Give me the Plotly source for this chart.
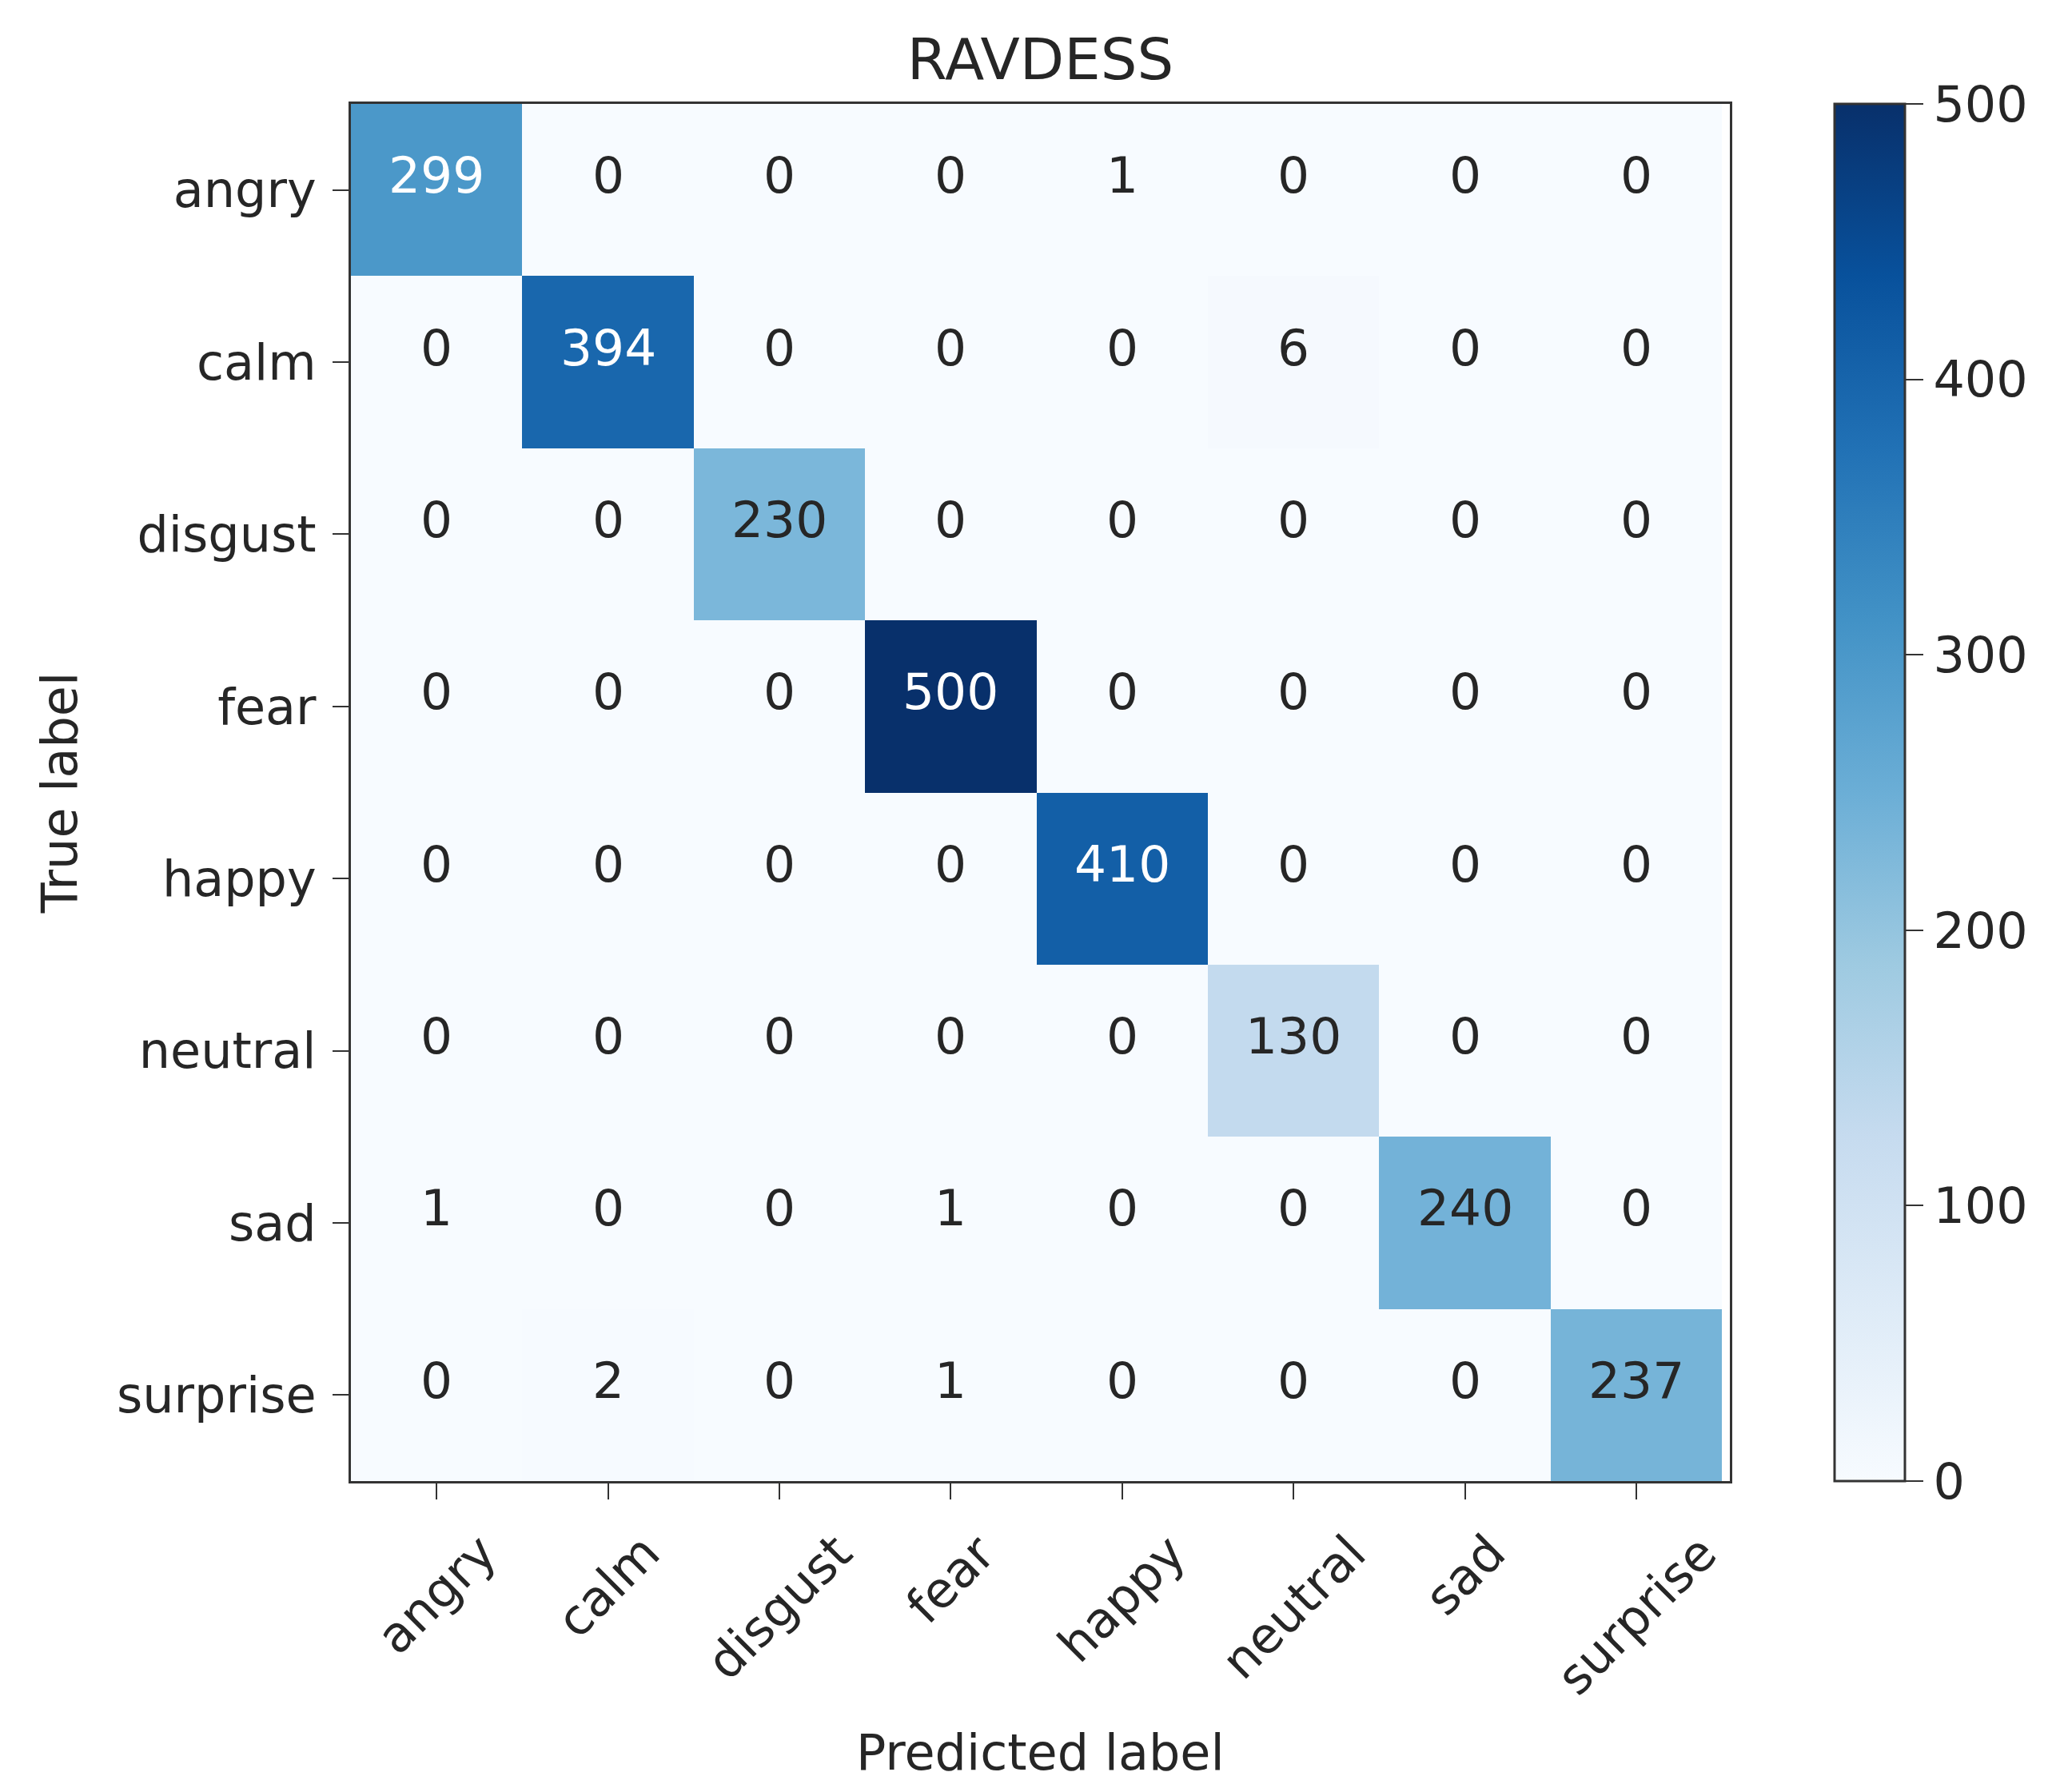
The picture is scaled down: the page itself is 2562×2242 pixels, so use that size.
import plotly.graph_objects as go

labels = ["angry", "calm", "disgust", "fear", "happy", "neutral", "sad", "surprise"]
cm = [
    [299, 0, 0, 0, 1, 0, 0, 0],
    [0, 394, 0, 0, 0, 6, 0, 0],
    [0, 0, 230, 0, 0, 0, 0, 0],
    [0, 0, 0, 500, 0, 0, 0, 0],
    [0, 0, 0, 0, 410, 0, 0, 0],
    [0, 0, 0, 0, 0, 130, 0, 0],
    [1, 0, 0, 1, 0, 0, 240, 0],
    [0, 2, 0, 1, 0, 0, 0, 237],
]
cbar_ticks = [0, 100, 200, 300, 400, 500]

blues = ["#f7fbff", "#deebf7", "#c6dbef", "#9ecae1", "#6baed6",
         "#4292c6", "#2171b5", "#08519c", "#08306b"]
colorscale = [[i / (len(blues) - 1), c] for i, c in enumerate(blues)]

W, H = 2562, 2242
L, R, T, B = 431, 2156, 122, 1845
FONT = "DejaVu Sans"
TXT = "#262626"

fig = go.Figure()
fig.add_trace(go.Heatmap(
    z=cm, x=labels, y=labels, colorscale=colorscale, zmin=0, zmax=500,
    showscale=True, hoverinfo="skip",
    colorbar=dict(
        x=(2287 - L) / (R - L), xanchor="left", xref="paper",
        y=0.5, yanchor="middle", len=1, lenmode="fraction",
        thickness=88, thicknessmode="pixels",
        outlinewidth=3, outlinecolor="#333",
        tickvals=cbar_ticks, ticks="outside", ticklen=22, tickwidth=2,
        tickcolor="#333",
        tickfont=dict(family=FONT, size=62, color=TXT),
        xpad=0, ypad=0,
    ),
))

maxv = max(max(r) for r in cm)
thresh = maxv / 2
for i, row in enumerate(cm):
    for j, v in enumerate(row):
        fig.add_annotation(
            x=labels[j], y=labels[i], text=str(v), showarrow=False, yshift=18,
            font=dict(family=FONT, size=63, color="white" if v > thresh else TXT),
        )

# rotated x tick labels, centred on their ticks (matplotlib style)
for lab in labels:
    fig.add_annotation(
        x=lab, xref="x", y=0, yref="paper", yanchor="top", xanchor="center",
        yshift=-50, text=lab, textangle=-45, showarrow=False,
        font=dict(family=FONT, size=62, color=TXT),
    )

fig.add_annotation(
    x=0.5, xref="paper", y=0, yref="paper", yanchor="middle", xanchor="center",
    yshift=-(2184 - B), text="Predicted label", showarrow=False,
    font=dict(family=FONT, size=62, color=TXT),
)

fig.update_layout(
    width=W, height=H,
    margin=dict(l=L, r=W - R, t=T, b=H - B),
    paper_bgcolor="white", plot_bgcolor="white",
    title=dict(text="RAVDESS", x=(L + R) / 2 / W, xanchor="center",
               y=1 - 66 / H, yanchor="middle",
               font=dict(family=FONT, size=72, color=TXT)),
    font=dict(family=FONT, color=TXT),
)
fig.update_xaxes(
    showline=True, linecolor="#333", linewidth=3, mirror=True,
    ticks="outside", ticklen=20, tickwidth=2, tickcolor="#333",
    showticklabels=False,
    showgrid=False, zeroline=False,
)
fig.update_yaxes(
    autorange="reversed",
    showline=True, linecolor="#333", linewidth=3, mirror=True,
    ticks="outside", ticklen=20, tickwidth=2, tickcolor="#333",
    ticklabelstandoff=8,
    tickfont=dict(family=FONT, size=62, color=TXT),
    title=dict(text="True label", font=dict(family=FONT, size=62, color=TXT), standoff=30),
    showgrid=False, zeroline=False,
)

fig.write_html("out.html")
